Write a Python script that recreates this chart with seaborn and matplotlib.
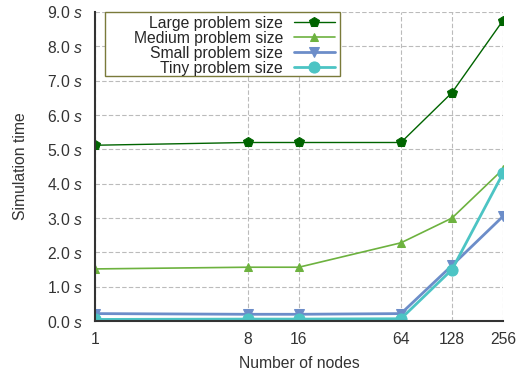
import matplotlib
matplotlib.use("Agg")
import matplotlib.pyplot as plt
from matplotlib.patches import Rectangle
import seaborn as sns
import pandas as pd

nodes = [1, 8, 16, 64, 128, 256]
large = [5.12, 5.2, 5.2, 5.2, 6.65, 8.75]
medium = [1.52, 1.57, 1.57, 2.28, 3.0, 4.42]
small = [0.22, 0.2, 0.2, 0.22, 1.62, 3.05]
tiny = [0.05, 0.06, 0.06, 0.07, 1.5, 4.3]
labels = ["Large problem size", "Medium problem size", "Small problem size", "Tiny problem size"]
yticks = [0, 1, 2, 3, 4, 5, 6, 7, 8, 9]

sns.set_theme(style="white")
plt.rcParams["font.family"] = ["Liberation Sans", "DejaVu Sans"]
plt.rcParams["mathtext.fontset"] = "custom"
plt.rcParams["mathtext.it"] = "Liberation Sans:italic"
plt.rcParams["mathtext.rm"] = "Liberation Sans"

rows = []
for lab, vals in zip(labels, [large, medium, small, tiny]):
    for n, v in zip(nodes, vals):
        rows.append({"nodes": n, "time": v, "series": lab})
df = pd.DataFrame(rows)

colors = {labels[0]: "#006400", labels[1]: "#6DB23F", labels[2]: "#6C8DC9", labels[3]: "#4CC4C4"}
markers = {labels[0]: "p", labels[1]: "^", labels[2]: "v", labels[3]: "o"}
lws = {labels[0]: 1.0, labels[1]: 1.2, labels[2]: 2.0, labels[3]: 2.0}
msz = {labels[0]: 7, labels[1]: 6, labels[2]: 7, labels[3]: 8}

fig, ax = plt.subplots(figsize=(5.3, 3.73), dpi=100)
fig.subplots_adjust(left=0.179, right=0.949, top=0.968, bottom=0.139)

for lab in labels:
    sub = df[df["series"] == lab]
    sns.lineplot(data=sub, x="nodes", y="time", ax=ax, color=colors[lab],
                 marker=markers[lab], markersize=msz[lab], linewidth=lws[lab],
                 markeredgecolor=colors[lab], label=lab)

ax.set_xscale("log", base=2)
ax.set_xlim(1, 256)
ax.set_ylim(0, 9)
ax.set_xticks(nodes)
ax.set_xticklabels([str(n) for n in nodes])
ax.minorticks_off()
ax.set_yticks(yticks)
ax.set_yticklabels([f"{v:.1f} $s$" for v in yticks])
ax.tick_params(axis="both", labelsize=11.3, colors="#333333", length=6,
               direction="inout", width=0.8)
ax.tick_params(axis="x", pad=5)
ax.tick_params(axis="y", pad=6)
ax.grid(True, linestyle=(0, (4, 2)), color="#bbbbbb", linewidth=0.8)
for s in ["top", "right"]:
    ax.spines[s].set_visible(False)
for s in ["left", "bottom"]:
    ax.spines[s].set_color("#333333")
    ax.spines[s].set_linewidth(1.5)
ax.set_xlabel("Number of nodes", fontsize=11.3, color="#333333", labelpad=6)
ax.set_ylabel("Simulation time", fontsize=11.3, color="#333333", labelpad=13)

# legend frame drawn as a box
box = Rectangle((0.0245, 0.793), 0.576, 0.207, transform=ax.transAxes,
                facecolor="white", edgecolor="#7A7A3A", linewidth=1.0,
                zorder=4.5, clip_on=False)
ax.add_patch(box)

leg = ax.legend(loc="upper right", bbox_to_anchor=(0.592, 0.9935), markerfirst=False,
                fontsize=11.3, frameon=False, borderpad=0.1,
                labelspacing=0.0, handlelength=2.6, handletextpad=0.7, borderaxespad=0.0)
leg.set_zorder(5)

fig.savefig("out.png", dpi=100)
